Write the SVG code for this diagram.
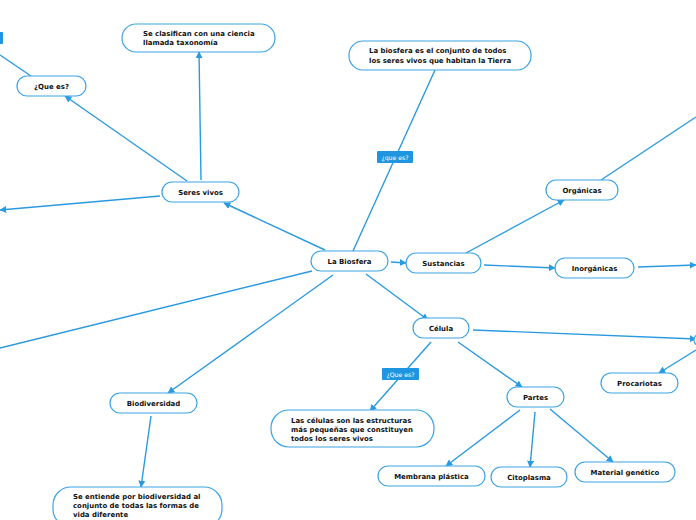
<svg xmlns="http://www.w3.org/2000/svg" width="696" height="520" viewBox="0 0 696 520">
<defs>
<marker id="ah" viewBox="0 0 10 10" refX="9" refY="5" markerWidth="7" markerHeight="7" markerUnits="userSpaceOnUse" orient="auto">
<path d="M0,0 L10,5 L0,10 z" fill="#2a9ae0"/>
</marker>
<style>
.n{fill:#fff;stroke:#3aa3e6;stroke-width:1.2}
.t{font-family:"DejaVu Sans",Verdana,sans-serif;font-weight:bold;font-size:6.95px;fill:#111}
.c{text-anchor:middle}
.l{stroke:#2a9ae0;stroke-width:1.4;fill:none}
.a{marker-end:url(#ah)}
.tag{fill:#1d95e0}
.tt{font-family:"DejaVu Sans",Verdana,sans-serif;font-size:6.2px;fill:#fff;text-anchor:middle}
</style>
</defs>
<rect width="696" height="520" fill="#fff"/>
<g id="connectors">
<line class="l a" x1="325" y1="250" x2="224" y2="203"/>
<line class="l a" x1="201" y1="180" x2="199" y2="52"/>
<line class="l a" x1="187" y1="181" x2="65" y2="96"/>
<line class="l" x1="31" y1="76" x2="0" y2="55"/>
<line class="l a" x1="160" y1="196" x2="0" y2="210"/>
<line class="l" x1="353" y1="251" x2="435" y2="70"/>
<line class="l a" x1="391" y1="262" x2="406" y2="263"/>
<line class="l a" x1="466" y1="253" x2="564" y2="200"/>
<line class="l a" x1="484" y1="265" x2="555" y2="268"/>
<line class="l a" x1="638" y1="267" x2="696" y2="265"/>
<line class="l" x1="601" y1="180" x2="696" y2="117"/>
<line class="l a" x1="366" y1="274" x2="428" y2="320"/>
<line class="l a" x1="473" y1="330" x2="696" y2="339"/>
<line class="l a" x1="696" y1="350" x2="659" y2="373"/>
<line class="l a" x1="431" y1="342" x2="370" y2="411"/>
<line class="l a" x1="458" y1="342" x2="522" y2="387"/>
<line class="l a" x1="520" y1="410" x2="446" y2="466"/>
<line class="l a" x1="535" y1="412" x2="530" y2="467"/>
<line class="l a" x1="550" y1="409" x2="613" y2="462"/>
<line class="l" x1="312" y1="271" x2="0" y2="348"/>
<line class="l a" x1="333" y1="275" x2="168" y2="393"/>
<line class="l a" x1="151" y1="416" x2="141" y2="487"/>
</g>
<g id="tag-topleft"><rect class="tag" x="-4" y="32" width="7" height="12" rx="1"/></g>
<g id="tag1"><rect class="tag" x="377" y="151" width="36" height="12" rx="1"/><text class="tt" x="395" y="159.5">¿que es?</text></g>
<g id="tag2"><rect class="tag" x="382" y="368" width="37" height="12" rx="1"/><text class="tt" x="400.5" y="376.5">¿Que es?</text></g>
<g id="n-taxonomia"><rect class="n" x="122" y="24" width="153" height="28" rx="14"/><text class="t" x="143" y="36">Se clasifican con una ciencia</text><text class="t" x="143" y="45">llamada taxonomía</text></g>
<g id="n-quees"><rect class="n" x="17" y="76" width="69" height="20" rx="10"/><text class="t c" x="51.5" y="88.5">¿Que es?</text></g>
<g id="n-def"><rect class="n" x="349" y="41" width="182" height="29" rx="14"/><text class="t" x="369" y="53">La biosfera es el conjunto de todos</text><text class="t" x="369" y="63">los seres vivos que habitan la Tierra</text></g>
<g id="n-seres"><rect class="n" x="162" y="182" width="77" height="20" rx="10"/><text class="t c" x="200.5" y="194.5">Seres vivos</text></g>
<g id="n-biosfera"><rect class="n" x="311" y="251" width="77" height="20" rx="10"/><text class="t c" x="349.5" y="263.5">La Biosfera</text></g>
<g id="n-sustancias"><rect class="n" x="406" y="253" width="75" height="20" rx="10"/><text class="t c" x="443.5" y="265.5">Sustancias</text></g>
<g id="n-organicas"><rect class="n" x="546" y="180" width="72" height="20" rx="10"/><text class="t c" x="582" y="192.5">Orgánicas</text></g>
<g id="n-inorganicas"><rect class="n" x="555" y="258" width="79" height="20" rx="10"/><text class="t c" x="594.5" y="270.5">Inorgánicas</text></g>
<g id="n-celula"><rect class="n" x="413" y="318" width="56" height="20" rx="10"/><text class="t c" x="441" y="330.5">Célula</text></g>
<g id="n-right"><rect class="n" x="694" y="334" width="40" height="12" rx="6"/></g>
<g id="n-procariotas"><rect class="n" x="601" y="373" width="77" height="20" rx="10"/><text class="t c" x="639.5" y="385.5">Procariotas</text></g>
<g id="n-partes"><rect class="n" x="507" y="387" width="57" height="20" rx="10"/><text class="t c" x="535.5" y="399.5">Partes</text></g>
<g id="n-celulas"><rect class="n" x="271" y="410" width="163" height="37" rx="18"/><text class="t" x="291" y="423">Las células son las estructuras</text><text class="t" x="291" y="432">más pequeñas que constituyen</text><text class="t" x="291" y="441">todos los seres vivos</text></g>
<g id="n-biodiversidad"><rect class="n" x="110" y="393" width="87" height="20" rx="10"/><text class="t c" x="153.5" y="405.5">Biodiversidad</text></g>
<g id="n-entiende"><rect class="n" x="53" y="487" width="169" height="40" rx="18"/><text class="t" x="73" y="499">Se entiende por biodiversidad al</text><text class="t" x="73" y="508">conjunto de todas las formas de</text><text class="t" x="73" y="517">vida diferente</text></g>
<g id="n-membrana"><rect class="n" x="378" y="466" width="107" height="20" rx="10"/><text class="t c" x="431.5" y="478.5">Membrana plástica</text></g>
<g id="n-citoplasma"><rect class="n" x="491" y="467" width="76" height="20" rx="10"/><text class="t c" x="529" y="479.5">Citoplasma</text></g>
<g id="n-material"><rect class="n" x="575" y="462" width="100" height="20" rx="10"/><text class="t c" x="625" y="474.5">Material genético</text></g>
</svg>
